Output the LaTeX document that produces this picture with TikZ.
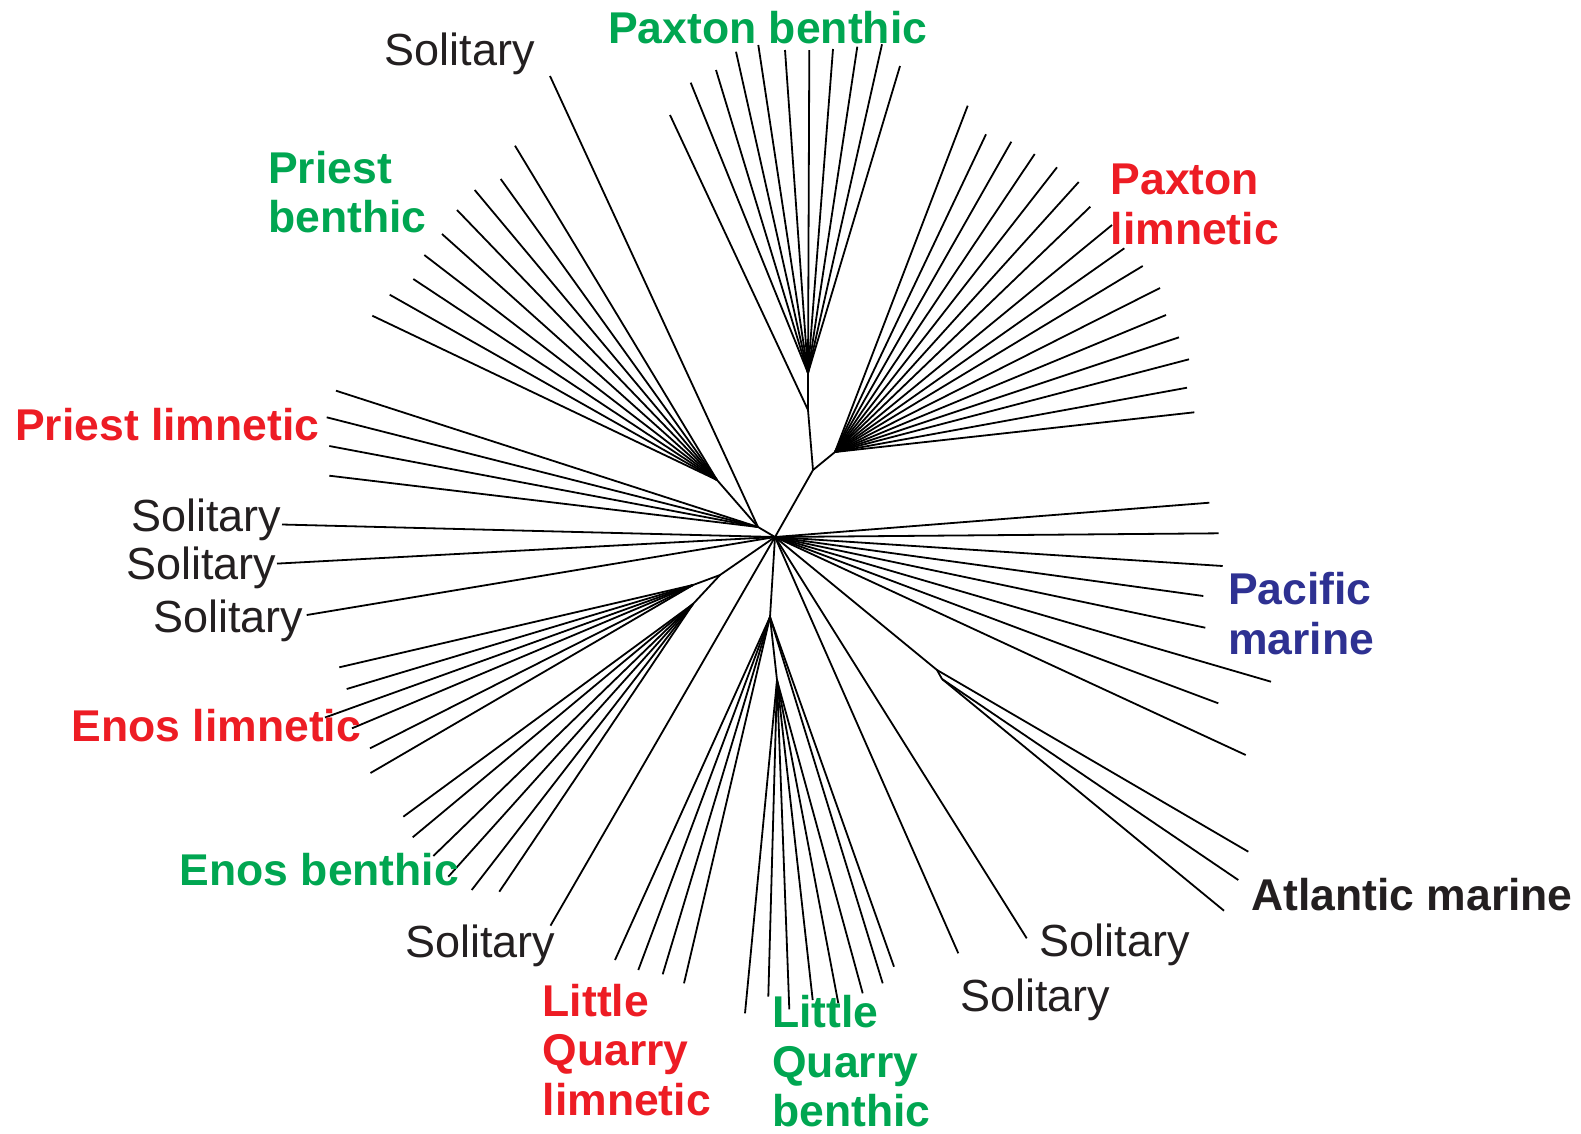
\documentclass[tikz,border=0pt]{standalone}
\usepackage{fontspec}
\setmainfont{Liberation Sans}
\definecolor{grn}{RGB}{0,166,81}
\definecolor{rd}{RGB}{237,28,36}
\definecolor{blu}{RGB}{46,49,146}
\definecolor{ink}{RGB}{35,31,32}
% draw a fan of leaves from one internal node: #1 parent, #2 name prefix, #3 list x/y
\newcommand\fanleaves[3]{%
  \foreach \x/\y [count=\i] in {#3} {%
    \coordinate (#2\i) at (\x,\y);
    \draw[branch] (#1) -- (#2\i);
  }%
}
\begin{document}
\begin{tikzpicture}[x=1pt,y=-1pt,
  branch/.style={line width=1.8pt, black},
  lab/.style={anchor=base west, inner sep=0pt, align=left,
    font=\fontsize{45}{49.5}\selectfont},
  blab/.style={lab, font=\fontsize{44.5}{49.5}\selectfont\bfseries}]
\useasboundingbox (0,0) rectangle (1581,1133);

% internal nodes of the tree
\coordinate (H) at (775,537);
\coordinate (U1) at (813,470);
\coordinate (U2) at (808,410);
\coordinate (PXB) at (808,373);
\coordinate (PXL) at (835,452);
\coordinate (A) at (758,527);
\coordinate (PB) at (717,480);
\coordinate (E1) at (720,575);
\coordinate (EL) at (693,585);
\coordinate (EB) at (693,604);
\coordinate (LQ) at (770,617);
\coordinate (LQB) at (777,680);
\coordinate (AT) at (937,670);
\coordinate (AT2) at (942,679);

% internal branches
\draw[branch] (H) -- (U1) -- (U2) -- (PXB);
\draw[branch] (U1) -- (PXL);
\draw[branch] (H) -- (A) -- (PB);
\draw[branch] (H) -- (E1) -- (EL);
\draw[branch] (E1) -- (EB);
\draw[branch] (H) -- (LQ) -- (LQB);
\draw[branch] (H) -- (AT) -- (AT2);

% Paxton benthic
\fanleaves{PXB}{pxb}{690.7/82.7, 716/70, 736/51.7, 758.3/45, 785/50, 809.3/50,
  833/49, 857.3/46.7, 882/44.3, 900/66}
\fanleaves{U2}{pxbo}{670/115}

% Paxton limnetic
\fanleaves{PXL}{pxl}{967.7/105.7, 986/134.3, 1011.3/141.7, 1034.7/154,
  1057/167.3, 1078.7/182, 1090.3/206.7, 1112/225, 1124.3/248.3, 1142.7/266,
  1160/288, 1166/315, 1179/337.3, 1189/359.3, 1187/387.7, 1194.3/412.3}

% Priest benthic
\fanleaves{PB}{pb}{515/145.7, 500.7/179, 474.7/190, 457/210, 442/234,
  424.3/255, 413.3/279, 389.7/294.7, 372.3/315.7}

% Priest limnetic and the solitary leaf above it
\fanleaves{A}{pl}{336/390.7, 326.7/417.3, 329.3/446, 329.3/475.7}
\fanleaves{A}{st}{550/76}

% solitary leaves on the left
\fanleaves{H}{sl}{282/524.5, 277/563.6, 306.7/615}

% Enos limnetic and benthic
\fanleaves{EL}{el}{339.3/667.3, 346.7/689, 325/717.5, 352/728.3, 370/748.3, 370.5/773}
\fanleaves{EB}{eb}{403.3/816.7, 412.7/837.3, 433.3/856, 448.3/876.7, 471.7/890, 499.3/891.7}

% solitary leaf, lower left
\fanleaves{H}{sb}{550.5/925.6}

% Little Quarry limnetic and benthic
\fanleaves{LQ}{lql}{615/960, 638.3/970, 662.7/974.3, 684/983.3}
\fanleaves{LQB}{lqb}{745/1013.3, 768.3/996.7, 789.3/1009.3, 812.7/1000,
  838.3/1003.3, 862.7/993.3}
\fanleaves{LQ}{lqr}{882.7/983.3, 894/966.7}

% solitary leaves, lower right
\fanleaves{H}{sr}{1026.7/938.3, 958.3/953.3}

% Atlantic marine
\fanleaves{AT}{at}{1248.3/851.7}
\fanleaves{AT2}{atb}{1238.3/880, 1224/910.7}

% Pacific marine
\fanleaves{H}{pm}{1209.3/502.7, 1218.7/533.3, 1222.7/566, 1203.3/596,
  1205.3/627.7, 1271/681.7, 1218.3/703.3, 1245.7/755}

% labels (multi-line labels are placed by the baseline of their last line)
\node[blab, grn] (tPXB) at (608,43) {Paxton benthic};
\node[blab, grn] (tPB) at (268,232.5) {Priest\\benthic};
\node[blab, rd] (tPXL) at (1110.5,244) {Paxton\\limnetic};
\node[blab, rd] (tPL) at (15,440) {Priest limnetic};
\node[blab, blu] (tPM) at (1228,654) {Pacific\\marine};
\node[blab, rd] (tEL) at (71.5,741.7) {Enos limnetic};
\node[blab, grn] (tEB) at (179.5,885) {Enos benthic};
\node[blab, ink] (tAM) at (1251,910) {Atlantic marine};
\node[blab, rd] (tLQL) at (542.5,1115) {Little\\Quarry\\limnetic};
\node[blab, grn] (tLQB) at (772,1126.5) {Little\\Quarry\\benthic};

\node[lab, ink] (s1) at (384.5,65) {Solitary};
\node[lab, ink] (s2) at (131,531) {Solitary};
\node[lab, ink] (s3) at (126,579) {Solitary};
\node[lab, ink] (s4) at (153,632) {Solitary};
\node[lab, ink] (s5) at (405,957) {Solitary};
\node[lab, ink] (s6) at (1039.5,956) {Solitary};
\node[lab, ink] (s7) at (960,1011) {Solitary};
\end{tikzpicture}
\end{document}
